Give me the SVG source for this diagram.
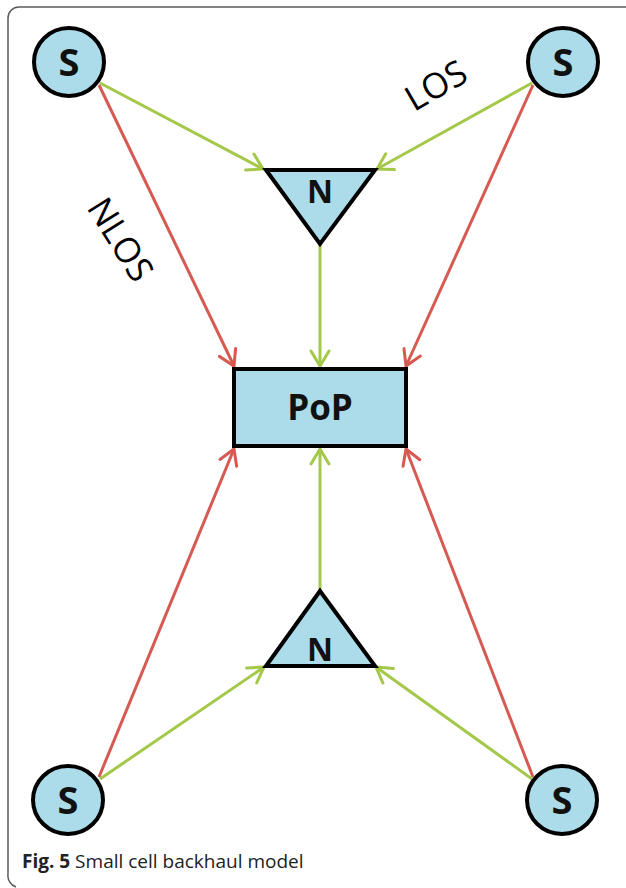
<svg xmlns="http://www.w3.org/2000/svg" width="626" height="888" viewBox="0 0 626 888">
<style>
.node{fill:#acdce9;stroke:#000;stroke-width:4}
.lbl{font-family:"Open Sans","Liberation Sans",sans-serif;font-weight:bold;fill:#111;text-anchor:middle}
.s{font-size:38px}
.g{stroke:#a4c84a;stroke-width:3;fill:none;marker-end:url(#ag)}
.r{stroke:#d65a52;stroke-width:3;fill:none;marker-end:url(#ar)}
.ann{font-family:"Open Sans","Liberation Sans",sans-serif;font-size:35px;fill:#000;text-anchor:middle}
</style>
<defs>
<marker id="ag" markerUnits="userSpaceOnUse" markerWidth="20" markerHeight="20" refX="16" refY="9" orient="auto" overflow="visible">
<path d="M1,0 L16,9 L1,18" fill="none" stroke="#a4c84a" stroke-width="3" stroke-linecap="round" stroke-linejoin="miter"/>
</marker>
<marker id="ar" markerUnits="userSpaceOnUse" markerWidth="20" markerHeight="20" refX="16" refY="9" orient="auto" overflow="visible">
<path d="M1,0 L16,9 L1,18" fill="none" stroke="#d65a52" stroke-width="3" stroke-linecap="round" stroke-linejoin="miter"/>
</marker>
</defs>
<rect width="626" height="888" fill="#fff"/>
<path d="M626,7 H19 A11,11 0 0 0 8,18 V874 A12,12 0 0 0 16,887" fill="none" stroke="#5a5a5a" stroke-width="1.5"/>
<g id="connectors">
<line class="g" x1="100" y1="83" x2="263" y2="169"/>
<line class="r" x1="99" y1="85" x2="234" y2="366"/>
<line class="g" x1="532" y1="83" x2="377" y2="169"/>
<line class="r" x1="533" y1="85" x2="406" y2="366"/>
<line class="g" x1="320" y1="245" x2="320" y2="366"/>
<line class="g" x1="320" y1="592" x2="320" y2="449"/>
<line class="r" x1="99" y1="777" x2="234" y2="449"/>
<line class="g" x1="100" y1="779" x2="264" y2="667"/>
<line class="r" x1="533" y1="777" x2="406" y2="449"/>
<line class="g" x1="532" y1="779" x2="376" y2="667"/>
</g>
<g id="s-top-left"><ellipse class="node" cx="69" cy="62" rx="35" ry="34"/><text class="lbl s" x="69" y="76">S</text></g>
<g id="s-top-right"><ellipse class="node" cx="563" cy="62" rx="35" ry="34"/><text class="lbl s" x="563" y="76">S</text></g>
<g id="s-bottom-left"><ellipse class="node" cx="68" cy="800" rx="35" ry="34"/><text class="lbl s" x="68" y="814">S</text></g>
<g id="s-bottom-right"><ellipse class="node" cx="562" cy="800" rx="35" ry="34"/><text class="lbl s" x="562" y="814">S</text></g>
<g id="n-top"><polygon class="node" points="266,170 375,170 320,244" stroke-linejoin="miter"/><text class="lbl" x="320" y="203" font-size="32">N</text></g>
<g id="n-bottom"><polygon class="node" points="320,591 375,666 266,666" stroke-linejoin="miter"/><text class="lbl" x="320" y="661" font-size="32">N</text></g>
<g id="pop"><rect class="node" x="234" y="369" width="172" height="77"/><text class="lbl" x="320" y="420" font-size="35">PoP</text></g>
<text class="ann" transform="translate(442,96) rotate(-30)">LOS</text>
<text class="ann" transform="translate(110,246) rotate(58)">NLOS</text>
<text x="22" y="868" font-family="'Open Sans','Liberation Sans',sans-serif" font-size="19" fill="#222"><tspan font-weight="bold">Fig. 5</tspan> Small cell backhaul model</text>
</svg>
